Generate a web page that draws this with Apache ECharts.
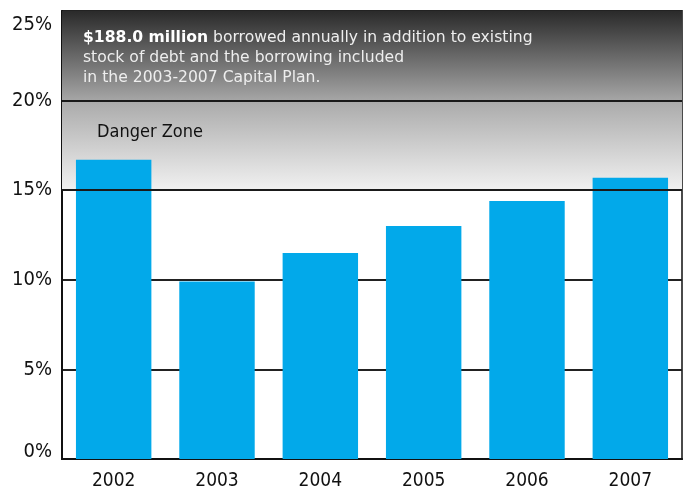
<!DOCTYPE html>
<html>
<head>
<meta charset="utf-8">
<script src="https://cdn.jsdelivr.net/npm/echarts@6/dist/echarts.min.js"></script>
<style>
  html, body { margin: 0; padding: 0; background: #fff; }
  #chart { width: 683px; height: 491px; }
</style>
</head>
<body>
<div id="chart"></div>
<script>
// Debt service ratio by year, in percent
const years = ['2002', '2003', '2004', '2005', '2006', '2007'];
const debtRatio = [16.7, 9.9, 11.5, 13.0, 14.4, 15.7];
const yTicks = [0, 5, 10, 15, 20, 25];
const noteBold = '$188.0 million';
const noteLines = [
  ' borrowed annually in addition to existing',
  'stock of debt and the borrowing included',
  'in the 2003-2007 Capital Plan.'
];
const zoneLabel = 'Danger Zone';

// narrow face for axis labels and the zone caption
const condensed = '"DejaVu Sans Condensed", "DejaVu Sans", sans-serif';
const noteFont = '"DejaVu Sans", Verdana, sans-serif';

const yMin = yTicks[0];
const yMax = yTicks[yTicks.length - 1];

const chart = echarts.init(document.getElementById('chart'), null, { renderer: 'canvas' });

const tickText = { color: '#111', fontFamily: condensed, fontSize: 20 };

chart.setOption({
  animation: false,
  grid: {
    left: 62, right: 1, top: 11, bottom: 32,
    show: true, borderColor: '#4a4a4a', borderWidth: 2, backgroundColor: 'transparent'
  },
  xAxis: {
    type: 'category',
    data: years,
    axisLine: { lineStyle: { color: '#111', width: 2 } },
    axisTick: { show: false },
    axisLabel: { color: '#111', fontFamily: condensed, fontSize: 19, margin: 13 }
  },
  yAxis: {
    type: 'value',
    min: yMin, max: yMax, interval: 5,
    axisLine: { show: true, lineStyle: { color: '#111', width: 2 } },
    axisTick: { show: false },
    splitLine: { lineStyle: { color: '#222', width: 2 } },
    axisLabel: {
      margin: 10,
      formatter: v => {
        // the end labels are nudged inward so they stay inside the frame
        if (v === yMax) return '{hi|' + v + '%}';
        if (v === yMin) return '{lo|' + v + '%}';
        return '{n|' + v + '%}';
      },
      rich: {
        n: tickText,
        hi: Object.assign({ padding: [28, 0, 0, 0] }, tickText),
        lo: Object.assign({ padding: [0, 0, 14, 0] }, tickText)
      }
    }
  },
  series: [
    {
      // shaded bands above 15%
      type: 'line', data: [], z: 1, silent: true,
      markArea: {
        silent: true,
        data: [
          [{
            yAxis: 20,
            itemStyle: { color: new echarts.graphic.LinearGradient(0, 0, 0, 1, [
              { offset: 0, color: '#2a2a2a' }, { offset: 1, color: '#a6a6a6' }]) },
            label: {
              show: true, position: 'insideTopLeft', distance: 0,
              padding: [17, 0, 0, 21],
              formatter: '{b|' + noteBold + '}' + noteLines.join('\n'),
              color: '#eeeeee', fontFamily: noteFont,
              fontSize: 15.6, lineHeight: 20,
              rich: { b: { fontWeight: 'bold', color: '#ffffff', fontSize: 15.6,
                           fontFamily: noteFont, lineHeight: 20 } }
            }
          }, { yAxis: 25 }],
          [{
            yAxis: 15,
            itemStyle: { color: new echarts.graphic.LinearGradient(0, 0, 0, 1, [
              { offset: 0, color: '#aaaaaa' }, { offset: 1, color: '#f1f1f1' }]) },
            label: {
              show: true, position: 'insideTopLeft', distance: 0,
              padding: [23, 0, 0, 35],
              formatter: zoneLabel, color: '#111', fontFamily: condensed, fontSize: 18
            }
          }, { yAxis: 20 }]
        ]
      }
    },
    {
      // band boundary lines drawn over the shading
      type: 'line', data: [], z: 2, silent: true,
      markLine: {
        silent: true, symbol: 'none', label: { show: false },
        lineStyle: { color: '#1a1a1a', width: 2, type: 'solid' },
        data: [{ yAxis: 15 }, { yAxis: 20 }]
      }
    },
    {
      type: 'bar', data: debtRatio, z: 3,
      barCategoryGap: '27%',
      itemStyle: { color: '#02a9ea' }
    }
  ]
});
</script>
</body>
</html>
